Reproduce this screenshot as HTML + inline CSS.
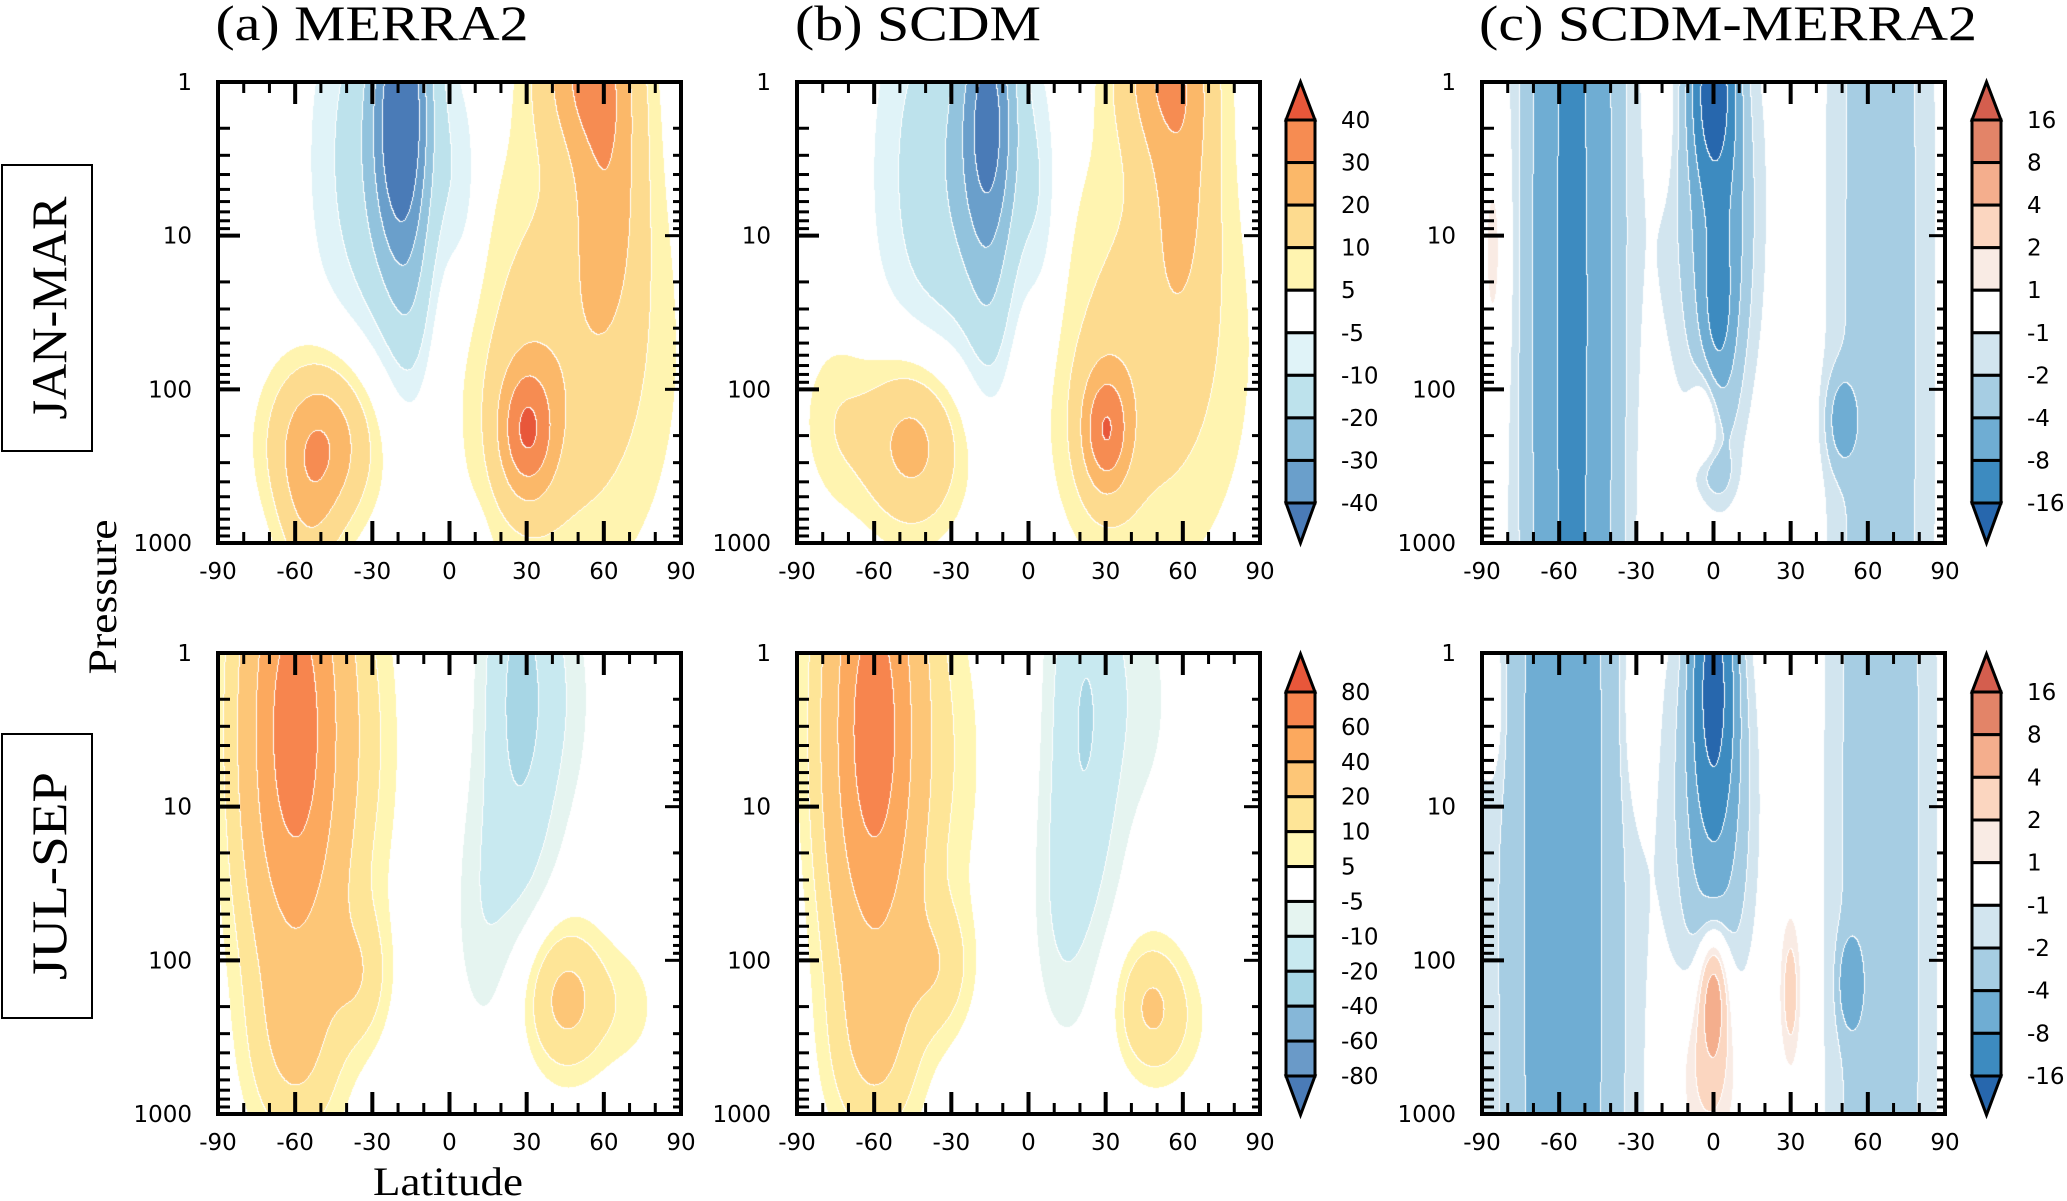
<!DOCTYPE html>
<html><head><meta charset="utf-8">
<style>
html,body{margin:0;padding:0;background:#fff;}
body{width:2067px;height:1201px;position:relative;overflow:hidden;}
canvas{position:absolute;}
#ov{position:absolute;left:0;top:0;}
</style></head>
<body>
<canvas id="c0"></canvas>
<canvas id="c1"></canvas>
<canvas id="c2"></canvas>
<canvas id="c3"></canvas>
<canvas id="c4"></canvas>
<canvas id="c5"></canvas>
<svg id="ov" width="2067" height="1201" xmlns="http://www.w3.org/2000/svg">
<g font-family="Liberation Serif, serif" fill="#000">
<text x="372" y="40" font-size="50" text-anchor="middle" textLength="313" lengthAdjust="spacingAndGlyphs">(a) MERRA2</text>
<text x="918" y="40" font-size="50" text-anchor="middle" textLength="246" lengthAdjust="spacingAndGlyphs">(b) SCDM</text>
<text x="1728" y="40" font-size="50" text-anchor="middle" textLength="498" lengthAdjust="spacingAndGlyphs">(c) SCDM-MERRA2</text>
<rect x="2" y="165" width="90" height="286" fill="none" stroke="#000" stroke-width="2"/>
<text transform="translate(66,308) rotate(-90)" font-size="50" text-anchor="middle" textLength="223" lengthAdjust="spacingAndGlyphs">JAN-MAR</text>
<rect x="2" y="734" width="90" height="284" fill="none" stroke="#000" stroke-width="2"/>
<text transform="translate(66,876) rotate(-90)" font-size="50" text-anchor="middle" textLength="208" lengthAdjust="spacingAndGlyphs">JUL-SEP</text>
<text transform="translate(116,597) rotate(-90)" font-size="40" text-anchor="middle" textLength="155" lengthAdjust="spacingAndGlyphs">Pressure</text>
<text x="448" y="1195" font-size="40" text-anchor="middle" textLength="150" lengthAdjust="spacingAndGlyphs">Latitude</text>
</g>
<g id="axes"></g>
</svg>
<script>
// ---- data: tick labels and contour levels ----
const latTicks=[-90,-60,-30,0,30,60,90];
const presTicks=[1,10,100,1000];
const levJan=[-40,-30,-20,-10,-5,5,10,20,30,40];
const levJul=[-80,-60,-40,-20,-10,-5,5,10,20,40,60,80];
const levDiff=[-16,-8,-4,-2,-1,1,2,4,8,16];
const colJan=['#4a7bb7','#6a9fcb','#92c3dd','#bde2ec','#e0f3f8','#ffffff','#fff4b0','#fddb8f','#fbb869','#f68c52','#e8573a'];
const colJul=['#4a7bb7','#6a9ac8','#86b7d8','#a7d6e5','#c8e9f0','#e5f4f0','#ffffff','#fff6b3','#fee597','#fdc677','#fca95e','#f7854e','#e8573a'];
const colDiff=['#2767ad','#3d8bc0','#6fadd3','#a6cde3','#d2e5ef','#ffffff','#f9ebe4','#fbd6c0','#f4ae8d','#e38468','#d45e4e'];

// field blobs: latitude centre, log10(p) centre, amplitude, lat spread, log-p spread
const aJanLat=[-18,-28,5,52,62,45,30,-50,-55,5,-15];
const aJanLev=[0.2,0.5,0.7,-0.1,0.6,1.8,2.27,2.35,2.9,3.0,1.6];
const aJanAmp=[-42,-16,-8,24,19,16,30,30,10,-7,-6];
const aJanSLat=[8,17,6,13,10,28,8,14,8,5,6];
const aJanSLev=[0.75,0.9,0.5,0.4,0.7,1.0,0.32,0.38,0.35,0.15,0.45];

const bJanLat=[-15,-32,5,52,60,45,30,-45,-75,-15];
const bJanLev=[0.25,0.6,0.8,-0.1,0.6,1.8,2.27,2.35,2.2,1.6];
const bJanAmp=[-36,-17,-9,22,16,14,30,25,8,-6];
const bJanSLat=[8,18,6,13,10,28,7,14,10,6];
const bJanSLev=[0.7,0.95,0.6,0.4,0.7,1.0,0.3,0.4,0.4,0.45];

const cJanLat=[-55,-85,0,2,2,0,65,30,-20,-3,50,0];
const cJanLev=[1.5,1.1,0.05,1.0,1.45,0.8,1.5,1.0,0.3,2.2,2.2,2.55];
const cJanAmp=[-9,1.6,-20,-6,-5,-3,-3.2,1.4,1.3,3,-4.5,-2];
const cJanSLat=[12,4,5,6,3,14,14,4,3,4,4,5];
const cJanSLev=[6,0.6,0.35,0.8,0.25,1.0,6,1.0,0.3,0.25,0.2,0.12];

const aJulLat=[-60,-35,-30,27,12,45,45,70,-60];
const aJulLev=[0.5,2.1,0.6,0.3,1.7,0.3,2.25,2.3,2.6];
const aJulAmp=[72,14,6,-22,-7,-6,24,6,12];
const aJulSLat=[14,8,10,10,8,10,11,10,12];
const aJulSLev=[1.15,0.3,0.8,1.0,0.6,0.6,0.33,0.3,0.4];

const bJulLat=[-60,-35,-28,22,12,45,47,60,-60];
const bJulLev=[0.5,2.05,0.7,0.4,1.7,0.3,2.3,2.4,2.6];
const bJulAmp=[72,14,6,-20,-7,-6,20,5,12];
const bJulSLat=[13,9,10,10,8,10,9,10,12];
const bJulSLev=[1.15,0.3,0.8,1.0,0.6,0.6,0.3,0.3,0.4];

const cJulLat=[-58,-85,-30,0,0,0,-2,30,65,53,-60];
const cJulLev=[1.5,0.3,0.3,0.2,1.0,2.2,2.7,2.2,1.5,2.15,1.5];
const cJulAmp=[-4,1.5,1.6,-18,-5,6,3,3,-3.5,-5,-2.5];
const cJulSLat=[13,3,4,5,10,4,8,3,14,3,22];
const cJulSLev=[6,0.4,0.5,0.55,0.9,0.3,0.4,0.35,6,0.2,6];

const W=463,H=461;
const panels=[
 {id:'c0',x:218,y:82, lat:aJanLat,lev:aJanLev,amp:aJanAmp,sl:aJanSLat,sp:aJanSLev,levels:levJan,cols:colJan},
 {id:'c1',x:797,y:82, lat:bJanLat,lev:bJanLev,amp:bJanAmp,sl:bJanSLat,sp:bJanSLev,levels:levJan,cols:colJan},
 {id:'c2',x:1482,y:82, lat:cJanLat,lev:cJanLev,amp:cJanAmp,sl:cJanSLat,sp:cJanSLev,levels:levDiff,cols:colDiff},
 {id:'c3',x:218,y:653, lat:aJulLat,lev:aJulLev,amp:aJulAmp,sl:aJulSLat,sp:aJulSLev,levels:levJul,cols:colJul},
 {id:'c4',x:797,y:653, lat:bJulLat,lev:bJulLev,amp:bJulAmp,sl:bJulSLat,sp:bJulSLev,levels:levJul,cols:colJul},
 {id:'c5',x:1482,y:653, lat:cJulLat,lev:cJulLev,amp:cJulAmp,sl:cJulSLat,sp:cJulSLev,levels:levDiff,cols:colDiff}
];
function hex(c){return [parseInt(c.slice(1,3),16),parseInt(c.slice(3,5),16),parseInt(c.slice(5,7),16)];}
function xOf(p,lat){return p.x+(lat+90)/180*W;}
function yOf(p,pr){return p.y+Math.log10(pr)/3*H;}

panels.forEach(p=>{
 const cv=document.getElementById(p.id);
 cv.width=W;cv.height=H;cv.style.left=p.x+'px';cv.style.top=p.y+'px';
 const ctx=cv.getContext('2d');
 const img=ctx.createImageData(W,H);
 const idx=new Int8Array(W*H);
 const n=p.lat.length;
 for(let j=0;j<H;j++){
  const lp=3*j/H;
  for(let i=0;i<W;i++){
   const la=-90+180*i/W;
   let v=0;
   for(let k=0;k<n;k++){
    const dx=(la-p.lat[k])/p.sl[k],dy=(lp-p.lev[k])/p.sp[k];
    v+=p.amp[k]*Math.exp(-0.5*(dx*dx+dy*dy));
   }
   let b=0;while(b<p.levels.length&&v>=p.levels[b])b++;
   idx[j*W+i]=b;
  }
 }
 const rgb=p.cols.map(hex);
 for(let j=0;j<H;j++)for(let i=0;i<W;i++){
  const q=j*W+i,b=idx[q];
  let c=rgb[b];
  if((i<W-1&&idx[q+1]!==b)||(j<H-1&&idx[q+W]!==b))c=[255,255,255];
  img.data[q*4]=c[0];img.data[q*4+1]=c[1];img.data[q*4+2]=c[2];img.data[q*4+3]=255;
 }
 ctx.putImageData(img,0,0);
});

const NS='http://www.w3.org/2000/svg';
const g=document.getElementById('axes');
function mk(tag,attrs,parent){const e=document.createElementNS(NS,tag);for(const k in attrs)e.setAttribute(k,attrs[k]);(parent||g).appendChild(e);return e;}
const TF='DejaVu Sans, Liberation Sans, sans-serif';

panels.forEach((p,pi)=>{
 for(let la=-90;la<=90;la+=10){
  const x=xOf(p,la),maj=(la%30===0);const L=maj?22:11;
  const t1=mk('line',{x1:x,y1:p.y,x2:x,y2:p.y+L,stroke:'#000','stroke-width':maj?4:3});
  
  
  const t2=mk('line',{x1:x,y1:p.y+H,x2:x,y2:p.y+H-L,stroke:'#000','stroke-width':maj?4:3});
  
  
 }
 for(let d=1;d<=1000;d*=10){
  for(let m=1;m<10;m++){
   const pr=d*m;if(pr>1000)break;
   const y=yOf(p,pr),maj=(m===1);
   const t3=mk('line',{x1:p.x,y1:y,x2:p.x+(maj?22:12),y2:y,stroke:'#000','stroke-width':maj?4:3});
   
   
   const t4=mk('line',{x1:p.x+W,y1:y,x2:p.x+W-(maj?16:8),y2:y,stroke:'#000','stroke-width':3});
   
   
  }
 }
 const fr=mk('rect',{x:p.x,y:p.y,width:W,height:H,fill:'none',stroke:'#000','stroke-width':4});
 
 
 latTicks.forEach(la=>{
  const t=mk('text',{x:xOf(p,la),y:p.y+H+36,'font-size':23,'font-family':TF,'text-anchor':'middle'});
  t.textContent=la;
  
  
 });
 presTicks.forEach(pr=>{
  const t=mk('text',{x:p.x-26,y:yOf(p,pr)+8,'font-size':23,'font-family':TF,'text-anchor':'end'});
  t.textContent=pr;
  
  
 });
});

const cbs=[
 {x:1286,top:82,bt:120,bb:503,bot:543,levels:levJan,cols:colJan},
 {x:1972,top:82,bt:120,bb:503,bot:543,levels:levDiff,cols:colDiff},
 {x:1286,top:654,bt:692,bb:1076,bot:1115,levels:levJul,cols:colJul},
 {x:1972,top:654,bt:692,bb:1076,bot:1115,levels:levDiff,cols:colDiff}
];
cbs.forEach(cb=>{
 const w=29,n=cb.cols.length,nb=n-2,bh=(cb.bb-cb.bt)/nb;
 const tu=mk('polygon',{points:`${cb.x},${cb.bt} ${cb.x+w/2},${cb.top} ${cb.x+w},${cb.bt}`,fill:cb.cols[n-1],stroke:'#000','stroke-width':3});
 
 
 const td=mk('polygon',{points:`${cb.x},${cb.bb} ${cb.x+w/2},${cb.bot} ${cb.x+w},${cb.bb}`,fill:cb.cols[0],stroke:'#000','stroke-width':3});
 
 
 for(let i=0;i<nb;i++){
  const r=mk('rect',{x:cb.x,y:cb.bt+i*bh,width:w,height:bh,fill:cb.cols[n-2-i],stroke:'#000','stroke-width':3});
  
  
 }
 const desc=cb.levels.slice().reverse();
 desc.forEach((lv,i)=>{
  const t=mk('text',{x:cb.x+w+26,y:cb.bt+i*bh+8,'font-size':23,'font-family':TF});
  t.textContent=lv;
  
  
 });
});
</script>
</body></html>
